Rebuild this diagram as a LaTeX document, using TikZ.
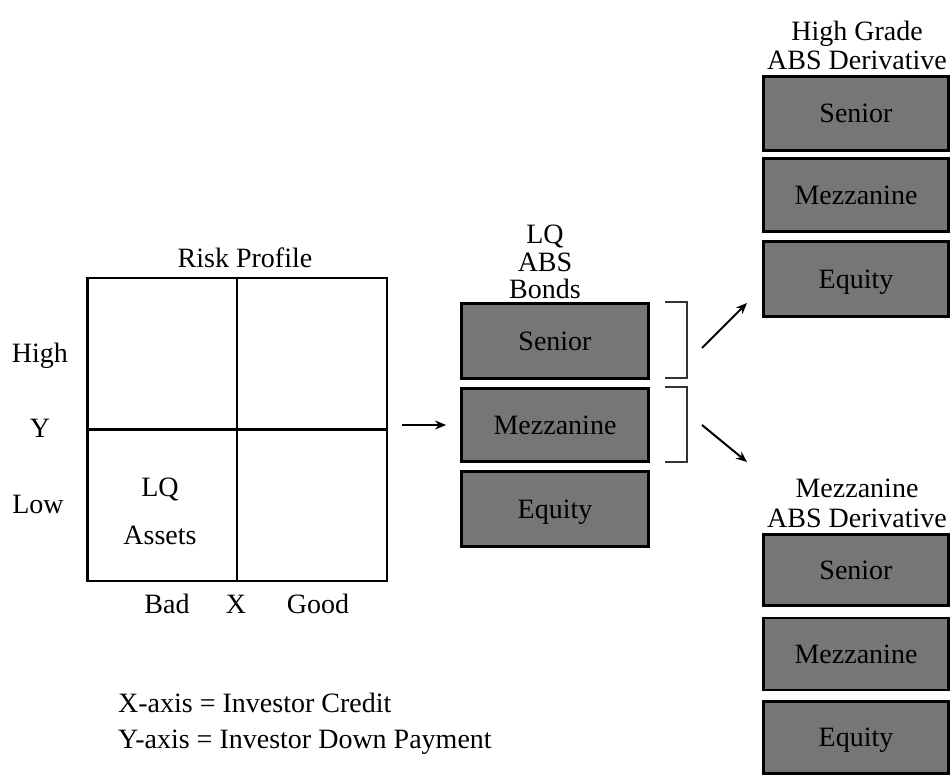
\documentclass[tikz,border=0pt]{standalone}
\usepackage{fontspec}
\setmainfont{Liberation Serif}
\usetikzlibrary{arrows.meta}
\definecolor{boxgray}{RGB}{118,118,118}
\begin{document}
\begin{tikzpicture}[x=1pt,y=-1pt,
  every node/.style={font=\fontsize{28}{30}\selectfont},
  lbl/.style={inner sep=0pt, text height=18.5pt, text depth=0pt},
  title/.style={inner sep=0pt, align=center, anchor=north},
  tranche/.style={draw=black, line width=2.8pt, fill=boxgray, inner sep=0pt,
    text height=18.5pt, text depth=0pt},
  gridline/.style={line width=2.5pt},
  brk/.style={line width=1.5pt, draw=black!80},
  arr/.style={line width=2pt, -{Stealth[length=11pt,width=9pt]}}
]
\useasboundingbox (0,0) rectangle (951,775);

% Risk profile grid
\node[draw, gridline, minimum width=299.5pt, minimum height=302.5pt, inner sep=0pt] (grid) at (237,429.5) {};
\draw[gridline] (grid.north) -- (grid.south);
\draw[gridline] (grid.west) -- (grid.east);
\node[lbl] (rp) at (245,258) {Risk Profile};
\node[lbl] (hi) at (40,353) {High};
\node[lbl] (yy) at (40,428) {Y};
\node[lbl] (lo) at (38,504) {Low};
\node[lbl] (lq) at (160,487) {LQ};
\node[lbl] (as) at (160,535) {Assets};
\node[lbl] (bad) at (167,604) {Bad};
\node[lbl] (xx) at (236,604) {X};
\node[lbl] (good) at (318,604) {Good};

% legend
\node[lbl, anchor=west] (lx) at (118,703) {X-axis = Investor Credit};
\node[lbl, anchor=west] (ly) at (118,739) {Y-axis = Investor Down Payment};

% middle: LQ ABS Bonds
\node[title, font=\fontsize{28}{27.5}\selectfont] (mt) at (545,225) {LQ\\ABS\\Bonds};
\node[tranche, minimum width=187pt, minimum height=75pt] (ms) at (555,341) {Senior};
\node[tranche, minimum width=187pt, minimum height=73pt] (mm) at (555,425) {Mezzanine};
\node[tranche, minimum width=187pt, minimum height=75pt] (me) at (555,509) {Equity};

% brackets
\draw[brk] (665,302) -- (687,302) -- (687,378) -- (665,378);
\draw[brk] (665,387) -- (687,387) -- (687,462) -- (665,462);

% arrows
\draw[arr, shorten <=14pt, shorten >=14pt] (grid.east |- mm.west) -- (mm.west);
\coordinate (u1) at (702,348);
\coordinate (u2) at (747,303);
\coordinate (d1) at (702,425);
\coordinate (d2) at (747,462);
\draw[arr] (u1) -- (u2);
\draw[arr] (d1) -- (d2);

% top right: High Grade ABS Derivative
\node[title, font=\fontsize{28}{29}\selectfont] (ht) at (857,20.5) {High Grade\\ABS Derivative};
\node[tranche, minimum width=185pt, minimum height=74pt] (hs) at (856,113.5) {Senior};
\node[tranche, minimum width=185pt, minimum height=73pt] (hm) at (856,195) {Mezzanine};
\node[tranche, minimum width=185pt, minimum height=75pt] (he) at (856,279) {Equity};

% bottom right: Mezzanine ABS Derivative
\node[title, font=\fontsize{28}{30}\selectfont] (bt) at (857,479) {Mezzanine\\ABS Derivative};
\node[tranche, minimum width=185pt, minimum height=71pt] (bs) at (856,570) {Senior};
\node[tranche, minimum width=185pt, minimum height=72pt] (bm) at (856,654) {Mezzanine};
\node[tranche, minimum width=185pt, minimum height=72pt] (be) at (856,737.5) {Equity};
\end{tikzpicture}
\end{document}
